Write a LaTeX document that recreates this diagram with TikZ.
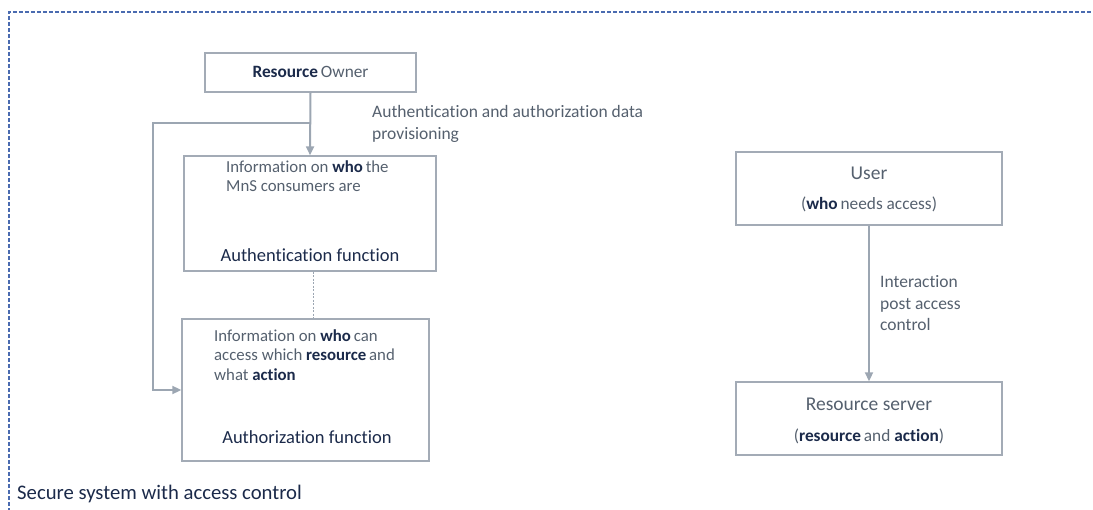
\documentclass[tikz,border=0pt]{standalone}
\usepackage{fontspec}
\setmainfont[Ligatures={NoCommon}]{Carlito}
\usetikzlibrary{arrows.meta}
\definecolor{boxgray}{HTML}{A3ABB6}
\definecolor{arrgray}{HTML}{9CA6B2}
\definecolor{txtgray}{HTML}{55606E}
\definecolor{navy}{HTML}{1B2A4A}
\definecolor{frameblue}{HTML}{4A6BB0}
\newcommand{\bt}[1]{{\bfseries\color{navy}#1}}
\tikzset{
  x=1pt, y=-1pt,
  boxnode/.style={draw=boxgray, line width=1.4pt, minimum width=#1, inner sep=0pt},
  arr/.style={draw=arrgray, line width=2pt, -{Triangle[length=9pt,width=8pt]}},
  txt/.style={text=txtgray, inner sep=0pt, font=\fontsize{16.8}{19.5}\selectfont},
  lbl/.style={text=txtgray, inner sep=0pt, font=\fontsize{17.5}{21.3}\selectfont},
  bigtxt/.style={text=txtgray, inner sep=0pt, font=\fontsize{19.5}{22}\selectfont},
  midtxt/.style={text=txtgray, inner sep=0pt, font=\fontsize{17.3}{20}\selectfont},
  fntxt/.style={text=navy, inner sep=0pt, font=\fontsize{18.5}{21}\selectfont},
}
\begin{document}
\begin{tikzpicture}
\useasboundingbox (0,0) rectangle (1093,510);
% frame
\draw[frameblue, line width=1.2pt, dash pattern=on 4pt off 2pt] (9,512) -- (9,12) -- (1095,12);
% boxes
\node[boxnode=211pt, minimum height=39pt] (ro) at (310.5,72.5) {};
\node[boxnode=252pt, minimum height=115pt] (authn) at (310,213.5) {};
\node[boxnode=247pt, minimum height=142pt] (authz) at (305.5,390) {};
\node[boxnode=266pt, minimum height=73pt] (user) at (869,188.5) {};
\node[boxnode=266pt, minimum height=73pt] (rs) at (869,418.5) {};
% texts
\node[midtxt] (rot) at (310.5,72) {\bt{Resource}\,Owner};
\node[txt, anchor=north west, align=left] (authnt) at (226,160.5) {Information on \bt{who}\,the\\MnS consumers are};
\node[fntxt] (authnf) at (310,255) {Authentication function};
\node[txt, anchor=north west, align=left] (authzt) at (214,329.5) {Information on \bt{who}\,can\\access which \bt{resource}\,and\\what \bt{action}};
\node[fntxt] (authzf) at (307,437) {Authorization function};
\node[bigtxt] (usert) at (869,173) {User};
\node[midtxt] (userd) at (869,204) {(\bt{who}\,needs access)};
\node[bigtxt] (rst) at (869,404) {Resource server};
\node[midtxt] (rsd) at (869,436) {(\bt{resource}\,and \bt{action})};
\node[lbl, anchor=north west, align=left] (provt) at (372,105.5) {Authentication and authorization data\\provisioning};
\node[lbl, anchor=north west, align=left] (intt) at (880,275.5) {Interaction\\post access\\control};
\node[text=navy, inner sep=0pt, anchor=west, font=\fontsize{20.7}{24}\selectfont] (title) at (17,494) {Secure system with access control};
% connectors
\coordinate (jn) at (ro.south |- 0,123);
\coordinate (lc) at (153,123);
\draw[arr] (ro.south) -- (authn.north);
\draw[arr] (jn) -- (lc) |- (authz.west);
\draw[arrgray, line width=1pt, dash pattern=on 2pt off 1.5pt] (authn.south) ++(3,0) coordinate (ds) -- (ds |- authz.north);
\draw[arr] (user.south) -- (rs.north);
\end{tikzpicture}
\end{document}
